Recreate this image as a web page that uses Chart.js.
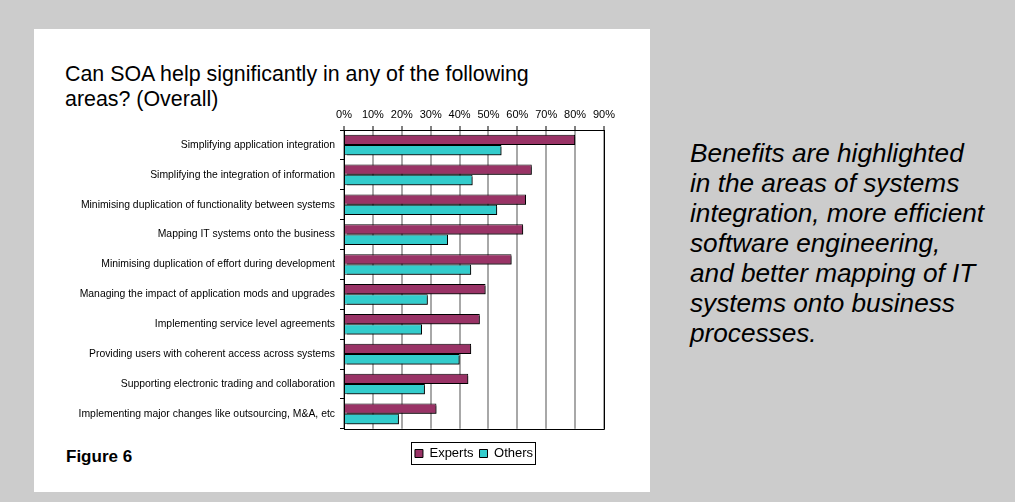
<!DOCTYPE html>
<html>
<head>
<meta charset="utf-8">
<script src="https://cdn.jsdelivr.net/npm/chart.js@4.4.0/dist/chart.umd.min.js"></script>
<style>
  body { margin: 0; background: #cccccc; width: 1015px; height: 502px; position: relative; overflow: hidden; font-family: "Liberation Sans", Arial, sans-serif; }
  #panel { position: absolute; left: 34px; top: 29px; width: 616px; height: 463px; background: #fff; }
  #title { position: absolute; left: 65px; top: 62px; font-size: 21.4px; line-height: 25px; color: #000; white-space: nowrap; }
  #fig { position: absolute; left: 66px; top: 447px; font-size: 17px; line-height: 20px; font-weight: bold; color: #000; }
  #note { position: absolute; left: 690px; top: 138px; font-size: 26.2px; line-height: 30px; font-style: italic; color: #000; white-space: nowrap; }
  #chart { position: absolute; left: 40px; top: 105px; }
</style>
</head>
<body>
<div id="panel"></div>
<div id="title">Can SOA help significantly in any of the following<br>areas? (Overall)</div>
<div id="fig">Figure 6</div>
<div id="note">Benefits are highlighted<br>in the areas of systems<br>integration, more efficient<br>software engineering,<br>and better mapping of IT<br>systems onto business<br>processes.</div>
<canvas id="chart" width="600" height="382"></canvas>
<script>
// 항목 (위에서 아래 순서)
const categories = [
    "Simplifying application integration",
    "Simplifying the integration of information",
    "Minimising duplication of functionality between systems",
    "Mapping IT systems onto the business",
    "Minimising duplication of effort during development",
    "Managing the impact of application mods and upgrades",
    "Implementing service level agreements",
    "Providing users with coherent access across systems",
    "Supporting electronic trading and collaboration",
    "Implementing major changes like outsourcing, M&A, etc"
];

// 시리즈 값 (%)
const experts = [80, 65, 63, 62, 58, 49, 47, 44, 43, 32];
const others = [54.5, 44.5, 53, 36, 44, 29, 27, 40, 28, 19];

// 축 눈금
const tickMin = 0;
const tickMax = 90;
const tickStep = 10;

// 막대 그림자
const barShadow = {
    id: "barShadow",
    beforeDatasetsDraw(chart) {
        const ctx = chart.ctx;
        ctx.save();
        ctx.shadowColor = "rgba(0,0,0,0.6)";
        ctx.shadowOffsetX = 2;
        ctx.shadowOffsetY = 2;
        ctx.shadowBlur = 0;
    },
    afterDatasetsDraw(chart) {
        chart.ctx.restore();
    }
};

// 플롯 테두리(오른쪽/아래)와 범례 테두리
const frame = {
    id: "frame",
    afterDraw(chart) {
        const ctx = chart.ctx;
        const a = chart.chartArea;
        ctx.save();
        ctx.strokeStyle = "#000";
        ctx.lineWidth = 1;
        ctx.beginPath();
        ctx.moveTo(Math.round(a.right) + 0.5, a.top);
        ctx.lineTo(Math.round(a.right) + 0.5, Math.round(a.bottom) + 0.5);
        ctx.lineTo(a.left, Math.round(a.bottom) + 0.5);
        ctx.stroke();

        const boxes = chart.legend.legendHitBoxes;
        if (boxes && boxes.length) {
            const minX = Math.min(...boxes.map(b => b.left));
            const maxX = Math.max(...boxes.map(b => b.left + b.width));
            const top = Math.min(...boxes.map(b => b.top));
            const h = boxes[0].height;
            ctx.strokeRect(Math.round(minX - 4) + 0.5, Math.round(top - 5) + 0.5, Math.round(maxX - minX + 6), Math.round(h + 9));
        }
        ctx.restore();
    }
};

const ctx = document.getElementById("chart").getContext("2d");
const chart = new Chart(ctx, {
    type: "bar",
    data: {
        labels: categories,
        datasets: [{
            label: "Experts",
            data: experts,
            backgroundColor: "#993366",
            borderColor: "#000",
            borderWidth: 1,
            barPercentage: 1.0,
            categoryPercentage: 0.69
        }, {
            label: "Others",
            data: others,
            backgroundColor: "#33cccc",
            borderColor: "#000",
            borderWidth: 1,
            barPercentage: 1.0,
            categoryPercentage: 0.69
        }]
    },
    plugins: [barShadow, frame],
    options: {
        indexAxis: "y",
        responsive: false,
        animation: false,
        layout: {
            padding: { top: 0, right: 36, bottom: 17, left: 0 }
        },
        plugins: {
            tooltip: { enabled: false },
            legend: {
                position: "bottom",
                fullSize: false,
                title: {
                    display: true,
                    text: " ",
                    font: { size: 1 },
                    padding: { top: 0, bottom: 11 }
                },
                labels: {
                    boxWidth: 8,
                    boxHeight: 8,
                    padding: 6,
                    color: "#000",
                    font: { family: "'Liberation Sans', Arial", size: 13 }
                }
            }
        },
        scales: {
            x: {
                position: "top",
                min: tickMin,
                max: tickMax,
                ticks: {
                    stepSize: tickStep,
                    color: "#000",
                    padding: 4,
                    font: { family: "'Liberation Sans', Arial", size: 11 },
                    callback: v => v + "%"
                },
                grid: {
                    color: "#a8a8a8",
                    lineWidth: 2,
                    tickColor: "#000",
                    tickLength: 4,
                    tickWidth: 1
                },
                border: { color: "#000", width: 1 },
                afterFit: s => { s.height = 25; }
            },
            y: {
                ticks: {
                    color: "#000",
                    padding: 5,
                    font: { family: "'Liberation Sans', Arial", size: 10.4 }
                },
                grid: {
                    drawOnChartArea: false,
                    offset: true,
                    tickColor: "#000",
                    tickLength: 4
                },
                border: { color: "#000", width: 1 },
                afterFit: s => { s.width = 304; }
            }
        }
    }
});
</script>
</body>
</html>
